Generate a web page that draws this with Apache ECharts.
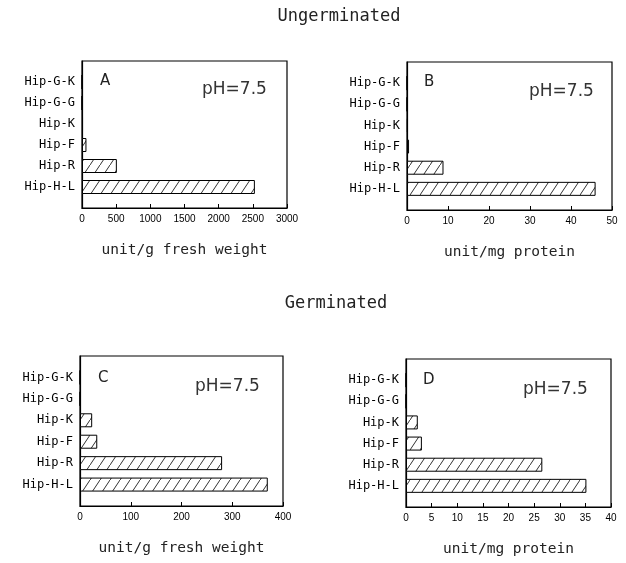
<!DOCTYPE html>
<html>
<head>
<meta charset="utf-8">
<script src="https://cdn.jsdelivr.net/npm/echarts@6/dist/echarts.min.js"></script>
<style>
html,body{margin:0;padding:0;background:#fff;}
#chart{width:626px;height:563px;}
</style>
</head>
<body>
<div id="chart"></div>
<script>
// Categories, bottom to top
const categories = ['Hip-H-L', 'Hip-R', 'Hip-F', 'Hip-K', 'Hip-G-G', 'Hip-G-K'];
// Ungerminated
const valuesA = [2530, 510, 65, 15, 0, 0];      // unit/g fresh weight
const valuesB = [46, 8.9, 0.5, 0.2, 0, 0];      // unit/mg protein
// Germinated
const valuesC = [370, 280, 34, 24, 0, 0];       // unit/g fresh weight
const valuesD = [35.2, 26.6, 3.1, 2.3, 0, 0];   // unit/mg protein

const ticksA = {max: 3000, interval: 500};
const ticksB = {max: 50, interval: 10};
const ticksC = {max: 400, interval: 100};
const ticksD = {max: 40, interval: 5};

const nameFresh = 'unit/g fresh weight';
const nameProtein = 'unit/mg protein';
const phText = 'pH=7.5';

// hatch pattern
const TW = 10, TH = 15;
const pc = document.createElement('canvas');
pc.width = TW; pc.height = TH;
const ctx = pc.getContext('2d');
ctx.fillStyle = '#fff';
ctx.fillRect(0, 0, TW, TH);
ctx.strokeStyle = '#333';
ctx.lineWidth = 1;
ctx.beginPath();
ctx.moveTo(-1, TH + 1.5); ctx.lineTo(TW + 1, -1.5);
ctx.stroke();
const hatch = {image: pc, repeat: 'repeat'};

const font = 'DejaVu Sans';
const mono = 'DejaVu Sans Mono';
const yCats = [''].concat(categories, ['']);
const pad = arr => [null].concat(arr, [null]);

const grids = [
  {left: 82, top: 61, width: 205, height: 147},
  {left: 407, top: 62, width: 205, height: 148},
  {left: 80, top: 356, width: 203, height: 150},
  {left: 406, top: 359, width: 205, height: 148}
];
const ticks = [ticksA, ticksB, ticksC, ticksD];
const names = [nameFresh, nameProtein, nameFresh, nameProtein];
const vals = [valuesA, valuesB, valuesC, valuesD];

const option = {
  backgroundColor: '#fff',
  animation: false,
  textStyle: {fontFamily: font},
  grid: grids.map(g => Object.assign({show: true, borderColor: '#000', borderWidth: 1.2, backgroundColor: 'transparent'}, g)),
  xAxis: grids.map((g, i) => ({
    gridIndex: i, type: 'value', min: 0, max: ticks[i].max, interval: ticks[i].interval,
    splitLine: {show: false},
    axisLine: {show: true, onZero: false, lineStyle: {color: '#000', width: 1.2}},
    axisTick: {show: true, inside: true, length: 4, lineStyle: {color: '#000'}},
    axisLabel: {color: '#000', fontSize: 10, margin: 6, fontFamily: 'Liberation Sans', formatter: v => String(v)},
    name: names[i], nameLocation: 'middle', nameGap: 35,
    nameTextStyle: {color: '#222', fontSize: 14.5, fontFamily: mono}
  })),
  yAxis: grids.map((g, i) => ({
    gridIndex: i, type: 'category', data: yCats, boundaryGap: false,
    axisLine: {show: true, lineStyle: {color: '#000', width: 1.2}},
    axisTick: {show: false},
    axisLabel: {color: '#000', fontSize: 12, margin: 7, fontFamily: mono}
  })),
  series: vals.map((v, i) => ({
    type: 'bar', xAxisIndex: i, yAxisIndex: i, data: pad(v), barWidth: 14,
    itemStyle: {color: hatch, borderColor: '#000', borderWidth: 1}
  })),
  graphic: [
    {type: 'text', x: 339, y: 8, style: {text: 'Ungerminated', font: '17px ' + mono, fill: '#222', textAlign: 'center'}},
    {type: 'text', x: 336, y: 295, style: {text: 'Germinated', font: '17px ' + mono, fill: '#222', textAlign: 'center'}},
    {type: 'text', x: 100, y: 74, style: {text: 'A', font: '15px ' + font, fill: '#222'}},
    {type: 'text', x: 202, y: 81, style: {text: phText, font: '17px ' + font, fill: '#333'}},
    {type: 'text', x: 424, y: 75, style: {text: 'B', font: '15px ' + font, fill: '#222'}},
    {type: 'text', x: 529, y: 83, style: {text: phText, font: '17px ' + font, fill: '#333'}},
    {type: 'text', x: 98, y: 371, style: {text: 'C', font: '15px ' + font, fill: '#222'}},
    {type: 'text', x: 195, y: 378, style: {text: phText, font: '17px ' + font, fill: '#333'}},
    {type: 'text', x: 423, y: 373, style: {text: 'D', font: '15px ' + font, fill: '#222'}},
    {type: 'text', x: 523, y: 381, style: {text: phText, font: '17px ' + font, fill: '#333'}}
  ]
};

const chart = echarts.init(document.getElementById('chart'), null, {renderer: 'canvas'});
chart.setOption(option);
</script>
</body>
</html>
